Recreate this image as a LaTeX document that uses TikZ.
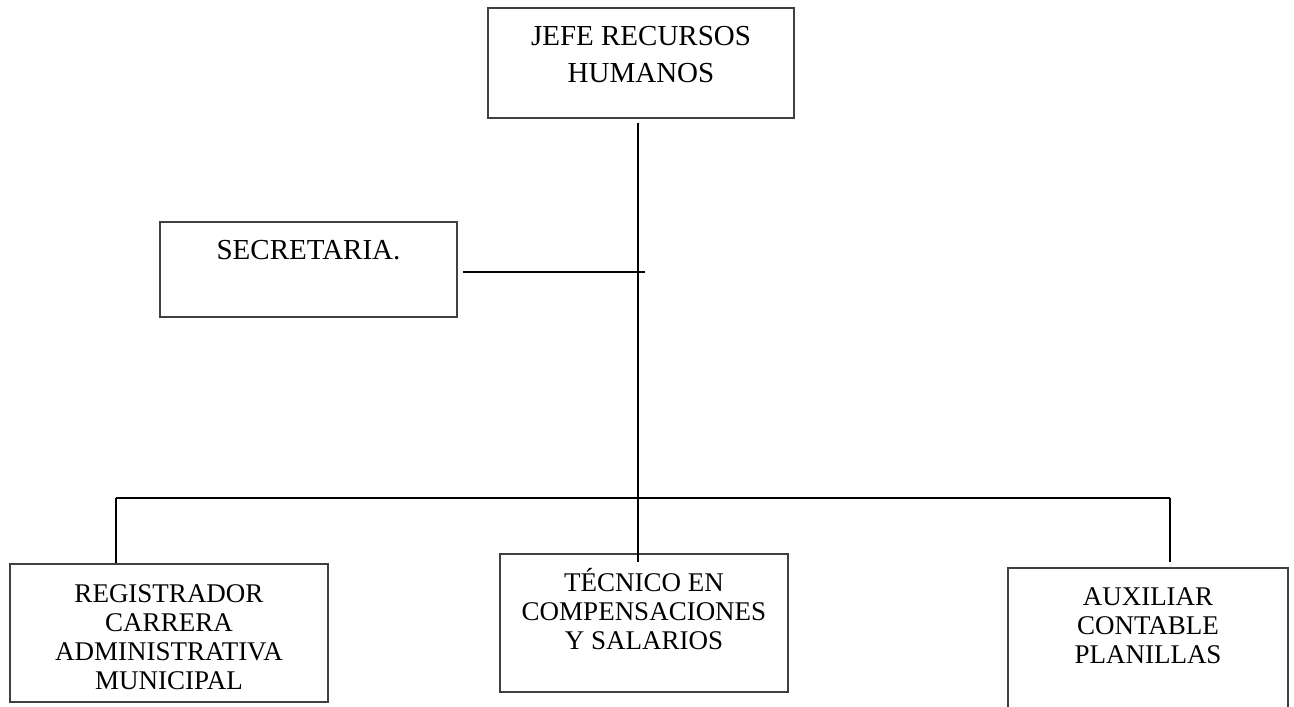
\documentclass[tikz,border=0pt]{standalone}
\usepackage{fontspec}
\setmainfont{Liberation Serif}
\usetikzlibrary{positioning}

\tikzset{
  box/.style = {draw = black!75, line width = 0.9pt, inner sep = 0pt},
  boxtext/.style = {inner sep = 0pt, align = center, anchor = north,
    font = \fontsize{13.5}{14.5}\selectfont},
  conn/.style = {line width = 1pt},
}

\begin{document}
\begin{tikzpicture} [x = 0.5pt, y = -0.5pt]
			\useasboundingbox (0,0) rectangle (1294,706);
			\clip (0,0) rectangle (1294,706);
			
			% boxes
			\node [box, minimum width = 153pt, minimum height = 55pt] (jefe) at (641,63) {};
			\node [box, minimum width = 148.5pt, minimum height = 47.5pt] (secre) at (308.5,269.5) {};
			\node [box, minimum width = 159pt, minimum height = 69pt] (regis) at (169,633) {};
			\node [box, minimum width = 144pt, minimum height = 69pt] (tecnico) at (644,623) {};
			\node [box, minimum width = 140pt, minimum height = 80pt] (aux) at (1148,648) {};
			
			% texts
			\node [boxtext, font = \fontsize{14.5}{18.5}\selectfont, below = 9.5pt of jefe.north] (jefetxt) {JEFE RECURSOS\\HUMANOS};
			\node [boxtext, font = \fontsize{14.5}{18.5}\selectfont, below = 9.5pt of secre.north] (secretxt) {SECRETARIA.};
			\node [boxtext, below = 10.5pt of regis.north] (registxt) {REGISTRADOR\\CARRERA\\ADMINISTRATIVA\\MUNICIPAL};
			\node [boxtext, below = 7.5pt of tecnico.north] (tecnicotxt) {TÉCNICO EN\\COMPENSACIONES\\Y SALARIOS};
			\node [boxtext, below = 10pt of aux.north] (auxtxt) {AUXILIAR\\CONTABLE\\PLANILLAS};
			
			% connectors
			\coordinate (trunk) at (638,123);
			\coordinate (busw) at (116,498);
			\coordinate (buse) at (1170,498);
			
			\draw [conn] (trunk) -- ([yshift = -4.5pt]trunk |- tecnico.north);
			\draw [conn] ([xshift = 2.5pt, yshift = -1.25pt]secre.east) -- ([xshift = 3.5pt, yshift = -1.25pt]trunk |- secre.east);
			\draw [conn] (busw) -- (buse);
			\draw [conn] (busw) -- (busw |- regis.north);
			\draw [conn] (buse) -- ([yshift = 2.5pt]buse |- aux.north);
\end{tikzpicture}
\end{document}
